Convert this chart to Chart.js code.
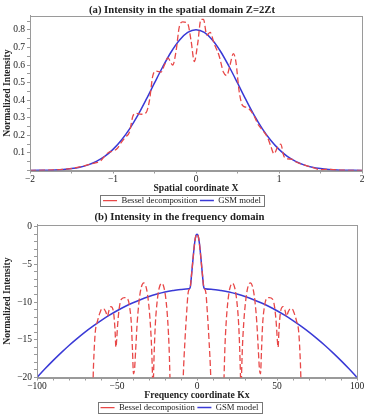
<!DOCTYPE html>
<html><head><meta charset="utf-8">
<script src="https://cdn.jsdelivr.net/npm/chart.js@4.4.0/dist/chart.umd.min.js"></script>
<style>
html,body{margin:0;padding:0;background:#fff;overflow:hidden;}
canvas{display:block;}
</style></head><body>
<canvas id="c1" width="366" height="207"></canvas>
<canvas id="c2" width="366" height="207"></canvas>
<script>
// ---- (a) spatial domain ----
const spatialGsmX = [-2,-1.9,-1.8,-1.7,-1.6,-1.5,-1.4,-1.3,-1.2,-1.1,-1,-0.9,-0.8,-0.7,-0.6,-0.5,-0.4,-0.3,-0.2,-0.1,0,0.1,0.2,0.3,0.4,0.5,0.6,0.7,0.8,0.9,1,1.1,1.2,1.3,1.4,1.5,1.6,1.7,1.8,1.9,2];
const spatialGsmI = [0.0004,0.001,0.0016,0.003,0.006,0.011,0.019,0.032,0.052,0.080,0.120,0.172,0.237,0.315,0.404,0.498,0.590,0.674,0.741,0.785,0.800,0.785,0.741,0.674,0.590,0.498,0.404,0.315,0.237,0.172,0.120,0.080,0.052,0.032,0.019,0.011,0.006,0.003,0.0016,0.001,0.0004];
const spatialBesselX = [-2.0,-1.8,-1.6,-1.5,-1.4,-1.3,-1.2,-1.15,-1.1,-1.05,-1.0,-0.95,-0.9,-0.85,-0.8,-0.76,-0.72,-0.66,-0.6,-0.56,-0.52,-0.48,-0.42,-0.38,-0.34,-0.28,-0.24,-0.2,-0.16,-0.1,-0.06,-0.02,0.02,0.06,0.09,0.13,0.17,0.22,0.28,0.33,0.37,0.41,0.45,0.48,0.52,0.56,0.6,0.64,0.7,0.75,0.8,0.86,0.9,0.94,0.98,1.02,1.06,1.1,1.15,1.2,1.3,1.4,1.5,1.55,1.6,1.7,1.8,2.0];
const spatialBesselI = [0.0005,0.002,0.006,0.011,0.02,0.033,0.045,0.055,0.082,0.104,0.11,0.125,0.16,0.19,0.22,0.31,0.325,0.32,0.33,0.40,0.54,0.565,0.56,0.6,0.64,0.60,0.68,0.82,0.845,0.835,0.74,0.62,0.72,0.86,0.86,0.77,0.785,0.72,0.65,0.56,0.54,0.6,0.665,0.62,0.45,0.37,0.36,0.35,0.31,0.26,0.23,0.19,0.14,0.095,0.13,0.15,0.08,0.066,0.065,0.05,0.032,0.018,0.005,0.006,0.006,0.003,0.0015,0.0004];

// ---- (b) frequency domain ----
const freqGsmX = [-100,-95,-90,-85,-80,-75,-70,-65,-60,-55,-50,-45,-40,-35,-30,-25,-20,-15,-10,-5,-4.2,-3.5,-2.5,-1.5,-0.7,0,0.7,1.5,2.5,3.5,4.2,5,10,15,20,25,30,35,40,45,50,55,60,65,70,75,80,85,90,95,100];
const freqGsmI = [-20.0,-18.85,-17.76,-16.73,-15.75,-14.84,-13.98,-13.19,-12.45,-11.77,-11.15,-10.59,-10.09,-9.65,-9.26,-8.94,-8.67,-8.47,-8.32,-8.24,-8.0,-6.6,-4.3,-2.2,-1.2,-1.0,-1.2,-2.2,-4.3,-6.6,-8.0,-8.24,-8.32,-8.47,-8.67,-8.94,-9.26,-9.65,-10.09,-10.59,-11.15,-11.77,-12.45,-13.19,-13.98,-14.84,-15.75,-16.73,-17.76,-18.85,-20.0];
const freqBesselX = [-65.4,-64.9,-64.3,-63.5,-62.3,-60.8,-59.4,-58.3,-57.0,-56.0,-55.0,-53.8,-52.2,-51.2,-50.7,-50.3,-49.6,-48.6,-47.2,-45.2,-43.3,-42.0,-41.0,-40.3,-39.7,-39.0,-38.3,-37.4,-36.3,-34.95,-33.3,-31.65,-30.3,-29.2,-28.35,-27.8,-27.5,-27.2,-26.7,-26.0,-25.0,-23.7,-22.1,-20.5,-19.2,-18.2,-17.4,-16.9,-16.2,-12.8,-9.3,-8.6,-7.5,-6.5,-5.5,-4.2,-3.5,-2.5,-1.5,-0.7,
  0,
  0.7,1.5,2.5,3.5,4.2,5.5,6.5,7.5,8.6,9.3,12.8,16.2,16.9,17.4,18.2,19.2,20.5,22.1,23.7,25.0,26.0,26.7,27.2,27.5,27.8,28.35,29.2,30.3,31.65,33.3,34.95,36.3,37.4,38.3,39.0,39.7,40.3,41.0,42.0,43.3,45.2,47.2,48.6,49.6,50.3,50.7,51.2,52.2,53.8,55.0,56.0,57.0,58.3,59.4,60.8,62.3,63.5,64.3,64.9,65.4];
const freqBesselI = [-26,-20,-16.5,-13.8,-12.6,-11.5,-10.9,-10.9,-11.3,-11.9,-11.1,-10.6,-11.3,-13.8,-16,-15.3,-13,-10.8,-9.6,-9.4,-9.6,-10.8,-13,-16.5,-19.5,-18.8,-16.2,-12.8,-10.05,-8.15,-7.45,-8.15,-10.05,-12.8,-16.2,-20,-23,-20,-16.3,-12.8,-10.1,-8.2,-7.5,-8.2,-10.1,-12.8,-16.3,-20,-26,-32,-26,-20,-15,-11.5,-8.7,-8.0,-6.6,-4.3,-2.2,-1.2,
  -1.0,
  -1.2,-2.2,-4.3,-6.6,-8.0,-8.7,-11.5,-15,-20,-26,-32,-26,-20,-16.3,-12.8,-10.1,-8.2,-7.5,-8.2,-10.1,-12.8,-16.3,-20,-23,-20,-16.2,-12.8,-10.05,-8.15,-7.45,-8.15,-10.05,-12.8,-16.2,-18.8,-19.5,-16.5,-13,-10.8,-9.6,-9.4,-9.6,-10.8,-13,-15.3,-16,-13.8,-11.3,-10.6,-11.1,-11.9,-11.3,-10.9,-10.9,-11.5,-12.6,-13.8,-16.5,-20,-26];

const seriesNames = ['Bessel decomposition', 'GSM model'];
const titles = ['(a) Intensity in the spatial domain Z=2Zt', '(b) Intensity in the frequency domain'];
const xTitles = ['Spatial coordinate X', 'Frequency coordinate Kx'];
const yTitle = 'Normalized Intensity';

const RED = 'rgb(232,72,72)';
const BLUE = 'rgb(58,58,214)';
const AXIS = '#9a9a9a';
const TXT = '#222';
const FONT = '"Liberation Serif", "Times New Roman", serif';
Chart.defaults.font.family = FONT;
Chart.defaults.color = TXT;

const pts = (xs, ys) => xs.map((x, i) => ({x, y: ys[i]}));
const fmt = v => (v < 0 ? '\u2212' : '') + String(Math.abs(Math.round(v)));

const framePlugin = {
  id: 'frame',
  afterDraw(chart) {
    const {ctx, chartArea: a, legend} = chart;
    ctx.save();
    ctx.strokeStyle = AXIS; ctx.lineWidth = 1;
    ctx.strokeRect(Math.round(a.left) + 0.5, Math.round(a.top) + 0.5, Math.round(a.right - a.left), Math.round(a.bottom - a.top));
    if (legend && legend.legendHitBoxes && legend.legendHitBoxes.length) {
      let l = Infinity, r = -Infinity, t = Infinity, b = -Infinity;
      legend.legendHitBoxes.forEach(h => { l = Math.min(l, h.left); r = Math.max(r, h.left + h.width); t = Math.min(t, h.top); b = Math.max(b, h.top + h.height); });
      ctx.strokeStyle = '#777';
      ctx.strokeRect(Math.round(l - 3) + 0.5, Math.round(t - 1) + 0.5, Math.round(r - l + 6), Math.round(b - t + 2));
    }
    ctx.restore();
  }
};

function makeChart(id, idx, bx, by, gx, gy, xs, ys, yWidth, padRight, titleBottom) {
  new Chart(document.getElementById(id), {
    type: 'line',
    data: {
      datasets: [
        {label: seriesNames[0], data: pts(bx, by), borderColor: RED, backgroundColor: RED, borderWidth: 1.3, borderDash: [6, 3], pointRadius: 0, cubicInterpolationMode: 'monotone', fill: false},
        {label: seriesNames[1], data: pts(gx, gy), borderColor: BLUE, backgroundColor: BLUE, borderWidth: 1.5, pointRadius: 0, cubicInterpolationMode: 'monotone', fill: false}
      ]
    },
    options: {
      responsive: false, animation: false, events: [],
      layout: {padding: {left: 2, right: padRight, top: 0, bottom: -7.9}},
      plugins: {
        title: {display: true, text: titles[idx], color: TXT, font: {size: 10.7, weight: 'bold', lineHeight: 1.1}, padding: {top: 4, bottom: titleBottom}},
        legend: {position: 'bottom', labels: {usePointStyle: true, pointStyle: 'line', pointStyleWidth: 14, boxHeight: 8, font: {size: 8.7}, color: TXT, padding: 2.5}},
        tooltip: {enabled: false}
      },
      scales: {
        x: Object.assign({type: 'linear', grid: {display: true, drawOnChartArea: false, tickLength: 3, color: AXIS},
          border: {display: true, color: AXIS},
          title: {display: true, text: xTitles[idx], color: TXT, font: {size: 9.7, weight: 'bold', lineHeight: 1}, padding: {top: -1, bottom: 0}}}, xs),
        y: Object.assign({type: 'linear', grid: {display: true, drawOnChartArea: false, tickLength: 3, color: AXIS},
          border: {display: true, color: AXIS},
          title: {display: true, text: yTitle, color: TXT, font: {size: 9.7, weight: 'bold', lineHeight: 1.1}, padding: {top: 0, bottom: 1}},
          afterFit: s => { s.width = yWidth; }}, ys)
      }
    },
    plugins: [framePlugin]
  });
}

const isMult = (v, m) => Math.abs(v / m - Math.round(v / m)) < 1e-6;

makeChart('c1', 0, spatialBesselX, spatialBesselI, spatialGsmX, spatialGsmI,
  {min: -2, max: 2, ticks: {stepSize: 0.5, autoSkip: false, maxRotation: 0, padding: 1, font: {size: 9.5, lineHeight: 1}, color: TXT,
    callback: v => isMult(v, 1) ? fmt(v) : ''}},
  {min: 0, max: 0.88, ticks: {stepSize: 0.05, includeBounds: false, autoSkip: false, padding: 2, font: {size: 9.5}, color: TXT,
    callback: v => (v > 0.01 && isMult(v, 0.1)) ? v.toFixed(1) : ''}},
  28, 4, 0);

makeChart('c2', 1, freqBesselX, freqBesselI, freqGsmX, freqGsmI,
  {min: -100, max: 100, ticks: {stepSize: 10, autoSkip: false, maxRotation: 0, padding: 1, font: {size: 9.5, lineHeight: 1}, color: TXT,
    callback: v => isMult(v, 50) ? fmt(v) : ''}},
  {min: -20, max: 0.25, ticks: {stepSize: 1, includeBounds: false, autoSkip: false, padding: 2, font: {size: 9.5}, color: TXT,
    callback: v => (v <= 0 && isMult(v, 5)) ? fmt(v) : ''}},
  35, 9, 2);
</script>
</body></html>
